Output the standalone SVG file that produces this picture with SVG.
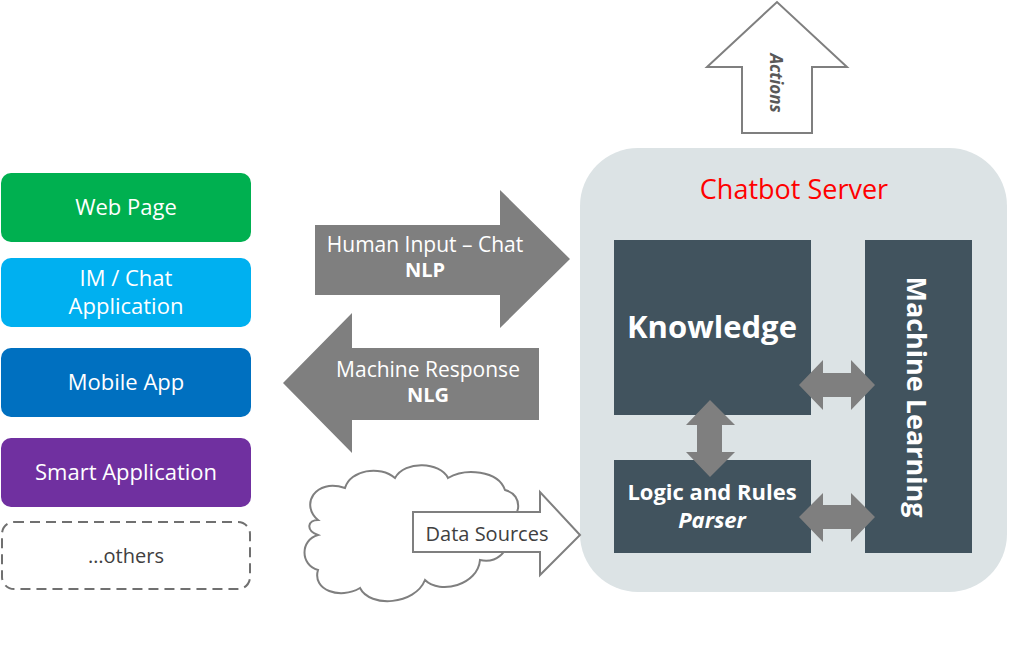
<svg xmlns="http://www.w3.org/2000/svg" width="1024" height="658" viewBox="0 0 1024 658">
<style>
.t{font-family:"Open Sans","Liberation Sans",sans-serif;fill:#fff;text-anchor:middle}
.dark{fill:#41535E}
.garrow{fill:#7F7F7F;stroke:none}
.oarrow{fill:#fff;stroke:#7F7F7F;stroke-width:2}
</style>
<rect width="1024" height="658" fill="#fff"/>
<g id="web-page"><rect x="1" y="173" width="250" height="69" rx="10" fill="#00B050"/><text class="t" x="126" y="215" font-size="22">Web Page</text></g>
<g id="im-chat"><rect x="1" y="258" width="250" height="69" rx="10" fill="#00B0F0"/><text class="t" x="126" y="286" font-size="22">IM / Chat</text><text class="t" x="126" y="314" font-size="22">Application</text></g>
<g id="mobile-app"><rect x="1" y="348" width="250" height="69" rx="10" fill="#0070C0"/><text class="t" x="126" y="390" font-size="22">Mobile App</text></g>
<g id="smart-app"><rect x="1" y="438" width="250" height="69" rx="10" fill="#7030A0"/><text class="t" x="126" y="480" font-size="22">Smart Application</text></g>
<g id="others"><rect x="2" y="522" width="248" height="67" rx="12" fill="#fff" stroke="#707070" stroke-width="2" stroke-dasharray="10,6"/><text class="t" x="126" y="563" font-size="20" style="fill:#404040">…others</text></g>

<g id="chatbot-server">
<rect x="580" y="148" width="427" height="444" rx="58" fill="#DCE3E5"/>
<text x="794" y="199" font-family="Open Sans,Liberation Sans,sans-serif" font-size="27" fill="#FF0000" text-anchor="middle">Chatbot Server</text>
</g>
<g id="knowledge"><rect class="dark" x="614" y="240" width="197" height="175"/><text class="t" x="712" y="338" font-size="31" font-weight="bold">Knowledge</text></g>
<g id="logic"><rect class="dark" x="614" y="460" width="197" height="93"/><text class="t" x="712" y="500" font-size="22" font-weight="bold">Logic and Rules</text><text class="t" x="712" y="528" font-size="22" font-weight="bold" font-style="italic">Parser</text></g>
<g id="machine-learning"><rect class="dark" x="865" y="240" width="107" height="313"/><text class="t" transform="translate(907 397) rotate(90)" font-size="27" font-weight="bold">Machine Learning</text></g>

<g id="connectors">
<polygon class="garrow" points="315,225 500,225 500,190 570,259 500,328 500,295 315,295"/>
<text class="t" x="425" y="252" font-size="21">Human Input – Chat</text>
<text class="t" x="425" y="277" font-size="20" font-weight="bold">NLP</text>
<polygon class="garrow" points="539,348 352,348 352,313 283,383 352,453 352,420 539,420"/>
<text class="t" x="428" y="377" font-size="21">Machine Response</text>
<text class="t" x="428" y="402" font-size="20" font-weight="bold">NLG</text>

<path d="M318,520 C300,505 315,478 345,488 C350,470 380,465 395,478 C405,460 440,462 448,478 C465,468 498,470 505,490 C525,495 520,520 505,525 C515,545 500,565 480,560 C478,585 440,595 425,580 C415,605 370,608 360,588 C340,600 312,590 318,570 C300,565 300,540 318,535 C305,530 308,520 318,520 Z" fill="#fff" stroke="#7F7F7F" stroke-width="2"/>
<polygon class="oarrow" points="413,512 540,512 540,492 580,535 540,575 540,552 413,552"/>
<text x="487" y="541" font-family="Open Sans,Liberation Sans,sans-serif" font-size="20" fill="#404040" text-anchor="middle">Data Sources</text>

<polygon class="oarrow" points="742,133 742,67 707,67 777,2 847,67 812,67 812,133"/>
<text transform="translate(770 83) rotate(90)" font-family="Open Sans,Liberation Sans,sans-serif" font-size="17" font-weight="bold" font-style="italic" fill="#595959" text-anchor="middle">Actions</text>

<polygon class="garrow" points="799,385 823,360 823,373 851,373 851,360 875,385 851,410 851,397 823,397 823,410"/>
<polygon class="garrow" points="799,517 823,493 823,505 851,505 851,493 875,517 851,542 851,529 823,529 823,542"/>
<polygon class="garrow" points="710,400 735,425 722,425 722,452 735,452 710,477 686,452 697,452 697,425 686,425"/>
</g>
</svg>
